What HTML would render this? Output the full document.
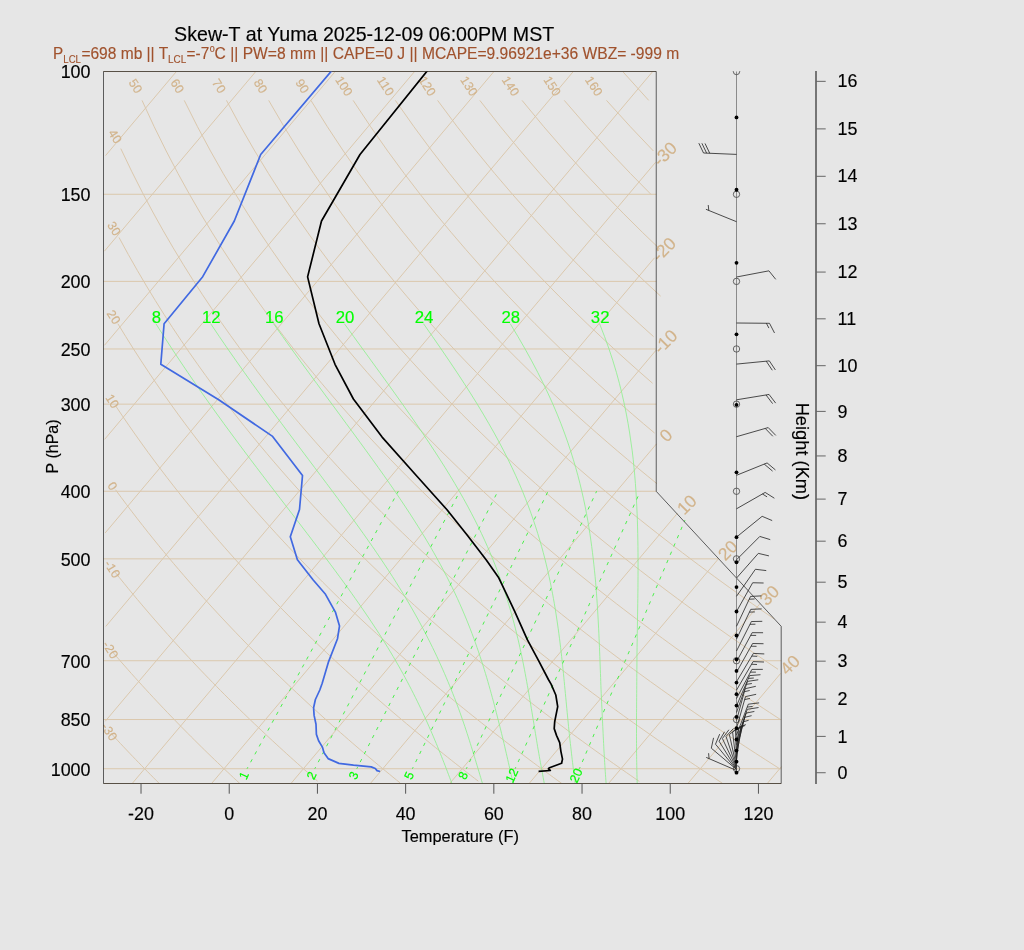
<!DOCTYPE html>
<html lang="en"><head><meta charset="utf-8"><title>Skew-T at Yuma 2025-12-09 06:00PM MST</title>
<style>
html,body{margin:0;padding:0;background:#e6e6e6;}
body{width:1024px;height:950px;overflow:hidden;}
svg{display:block;font-family:"Liberation Sans", sans-serif;}
text{stroke-width:0.15px;stroke-linejoin:round;}
#title,#xtitle,#ytitle,#htitle,#xlabels text,#ylabels text,#hlabels text{stroke:#000;}
#labels-tan text{stroke:#d2b48c;}
#labels-green text{stroke:#00ff00;}
#subtitle{stroke:#a0522d;}
</style></head><body>
<svg width="1024" height="950" viewBox="0 0 1024 950">
<rect width="1024" height="950" fill="#e6e6e6"/>
<g id="grid-tan" fill="none" stroke="#dbc8ad" stroke-width="1">
<polyline points="105.57,155.58 176.4,71.52"/>
<polyline points="104.41,251.17 255.78,71.52"/>
<polyline points="104.48,345.31 335.17,71.52"/>
<polyline points="104.6,439.39 414.55,71.52"/>
<polyline points="105.16,532.95 493.93,71.52"/>
<polyline points="105.79,626.42 573.31,71.52"/>
<polyline points="105.23,721.3 652.7,71.52"/>
<polyline points="132.2,783.51 655.52,162.39"/>
<polyline points="211.58,783.51 654.52,257.79"/>
<polyline points="290.97,783.51 656.07,350.18"/>
<polyline points="370.35,783.51 656.53,443.85"/>
<polyline points="449.73,783.51 677.49,513.18"/>
<polyline points="529.12,783.51 718.4,558.85"/>
<polyline points="608.5,783.51 759.92,603.79"/>
<polyline points="687.88,783.51 780.62,673.44"/>
<polyline points="767.27,783.51 781.51,766.61"/>
<polyline points="103.5,783.51 781.2,783.51" stroke-width="1"/>
<polyline points="103.5,768.74 781.2,768.74" stroke-width="1"/>
<polyline points="103.5,719.53 781.2,719.53" stroke-width="1"/>
<polyline points="103.5,660.74 781.2,660.74" stroke-width="1"/>
<polyline points="103.5,558.85 718.43,558.85" stroke-width="1"/>
<polyline points="103.5,491.28 656.24,491.28" stroke-width="1"/>
<polyline points="103.5,404.17 656.24,404.17" stroke-width="1"/>
<polyline points="103.5,348.97 656.24,348.97" stroke-width="1"/>
<polyline points="103.5,281.4 656.24,281.4" stroke-width="1"/>
<polyline points="103.5,194.29 656.24,194.29" stroke-width="1"/>
<polyline points="103.5,71.52 656.24,71.52" stroke-width="1"/>
<polyline points="111.1,733.45 114.23,736.83 117.34,740.18 120.43,743.49 123.51,746.76 126.58,750 129.62,753.21 132.66,756.38 135.68,759.51 138.68,762.62 141.67,765.69 144.65,768.74 147.61,771.75 150.56,774.73 153.49,777.69 156.42,780.61 159.32,783.51"/>
<polyline points="112.54,651.96 116.35,656.38 120.13,660.74 123.89,665.03 127.63,669.27 131.34,673.44 135.03,677.56 138.69,681.63 142.34,685.64 145.96,689.6 149.57,693.5 153.15,697.36 156.71,701.17 160.25,704.93 163.77,708.65 167.28,712.32 170.76,715.94 174.22,719.53 177.66,723.07 181.09,726.57 184.5,730.03 187.89,733.45 191.26,736.83 194.61,740.18 197.95,743.49 201.26,746.76 204.57,750 207.85,753.21 211.12,756.38 214.37,759.51 217.61,762.62 220.83,765.69 224.03,768.74 227.22,771.75 230.39,774.73 233.55,777.69 236.7,780.61 239.82,783.51"/>
<polyline points="114.83,571.89 119.43,577.64 123.99,583.28 128.52,588.81 133.01,594.25 137.47,599.59 141.9,604.84 146.29,609.99 150.65,615.07 154.98,620.06 159.28,624.96 163.55,629.79 167.79,634.55 172,639.23 176.18,643.84 180.33,648.38 184.46,652.85 188.56,657.26 192.63,661.6 196.67,665.88 200.69,670.11 204.68,674.27 208.65,678.38 212.59,682.43 216.51,686.43 220.41,690.38 224.28,694.28 228.13,698.13 231.95,701.93 235.75,705.68 239.53,709.38 243.29,713.05 247.03,716.66 250.74,720.24 254.43,723.77 258.11,727.26 261.76,730.72 265.39,734.13 269,737.51 272.6,740.84 276.17,744.15 279.73,747.41 283.26,750.64 286.78,753.84 290.28,757.01 293.76,760.14 297.22,763.24 300.67,766.3 304.1,769.34 307.51,772.35 310.91,775.33 314.28,778.27 317.64,781.19"/>
<polyline points="115.55,489.77 121.09,497.28 126.57,504.61 132,511.77 137.38,518.77 142.72,525.6 148,532.29 153.24,538.83 158.43,545.23 163.57,551.5 168.68,557.64 173.73,563.66 178.75,569.56 183.72,575.35 188.65,581.03 193.55,586.61 198.4,592.09 203.22,597.46 207.99,602.75 212.73,607.94 217.44,613.05 222.11,618.07 226.74,623.01 231.34,627.87 235.91,632.65 240.44,637.36 244.94,642 249.41,646.57 253.85,651.07 258.25,655.5 262.63,659.87 266.98,664.18 271.29,668.42 275.58,672.61 279.84,676.74 284.08,680.82 288.28,684.84 292.46,688.81 296.62,692.73 300.74,696.59 304.85,700.41 308.92,704.18 312.97,707.91 317,711.59 321,715.22 324.98,718.81 328.94,722.36 332.87,725.87 336.78,729.34 340.67,732.77 344.54,736.16 348.38,739.51 352.21,742.83 356.01,746.11 359.79,749.36 363.56,752.57 367.3,755.74 371.02,758.89 374.72,762 378.4,765.08 382.07,768.13 385.71,771.15 389.34,774.14 392.95,777.1 396.54,780.03 400.11,782.93"/>
<polyline points="115.86,406.19 122.49,416.05 129.04,425.6 135.52,434.86 141.93,443.85 148.26,452.58 154.53,461.06 160.73,469.31 166.86,477.34 172.93,485.17 178.94,492.8 184.89,500.24 190.77,507.5 196.6,514.59 202.38,521.52 208.09,528.29 213.75,534.92 219.36,541.4 224.92,547.75 230.43,553.97 235.89,560.06 241.3,566.03 246.66,571.89 251.97,577.64 257.24,583.28 262.47,588.81 267.65,594.25 272.79,599.59 277.89,604.84 282.95,609.99 287.97,615.07 292.95,620.06 297.89,624.96 302.79,629.79 307.66,634.55 312.49,639.23 317.28,643.84 322.04,648.38 326.76,652.85 331.46,657.26 336.11,661.6 340.74,665.88 345.34,670.11 349.9,674.27 354.43,678.38 358.93,682.43 363.4,686.43 367.85,690.38 372.26,694.28 376.65,698.13 381.01,701.93 385.34,705.68 389.64,709.38 393.92,713.05 398.17,716.66 402.4,720.24 406.6,723.77 410.77,727.26 414.93,730.72 419.05,734.13 423.16,737.51 427.24,740.84 431.29,744.15 435.33,747.41 439.34,750.64 443.33,753.84 447.3,757.01 451.24,760.14 455.17,763.24 459.07,766.3 462.96,769.34 466.82,772.35 470.66,775.33 474.49,778.27 478.29,781.19"/>
<polyline points="117.89,323.72 125.75,336.61 133.5,348.97 141.16,360.84 148.71,372.27 156.16,383.28 163.52,393.91 170.79,404.17 177.96,414.1 185.05,423.72 192.05,433.03 198.96,442.07 205.8,450.85 212.55,459.38 219.23,467.68 225.84,475.75 232.37,483.62 238.83,491.28 245.22,498.76 251.54,506.06 257.8,513.18 264,520.14 270.13,526.95 276.2,533.6 282.21,540.12 288.17,546.49 294.06,552.74 299.91,558.85 305.69,564.85 311.43,570.73 317.12,576.5 322.75,582.16 328.34,587.71 333.87,593.17 339.36,598.53 344.81,603.79 350.21,608.97 355.56,614.06 360.87,619.06 366.14,623.99 371.37,628.83 376.56,633.6 381.7,638.3 386.81,642.92 391.88,647.47 396.92,651.96 401.91,656.38 406.87,660.74 411.79,665.03 416.68,669.27 421.54,673.44 426.36,677.56 431.15,681.63 435.9,685.64 440.63,689.6 445.32,693.5 449.98,697.36 454.61,701.17 459.21,704.93 463.79,708.65 468.33,712.32 472.85,715.94 477.33,719.53 481.79,723.07 486.22,726.57 490.63,730.03 495.01,733.45 499.36,736.83 503.69,740.18 508,743.49 512.27,746.76 516.53,750 520.76,753.21 524.97,756.38 529.15,759.51 533.31,762.62 537.45,765.69 541.56,768.74 545.66,771.75 549.73,774.73 553.78,777.69 557.81,780.61 561.82,783.51"/>
<polyline points="119.04,237.49 128.31,254.5 137.44,270.61 146.43,285.91 155.28,300.47 164,314.36 172.59,327.64 181.05,340.37 189.39,352.58 197.61,364.32 205.72,375.62 213.71,386.51 221.59,397.03 229.37,407.19 237.04,417.02 244.61,426.54 252.09,435.78 259.48,444.73 266.77,453.44 273.98,461.89 281.1,470.12 288.13,478.13 295.09,485.94 301.97,493.55 308.77,500.97 315.49,508.21 322.15,515.29 328.73,522.2 335.25,528.96 341.7,535.57 348.09,542.04 354.41,548.38 360.67,554.58 366.87,560.66 373.01,566.62 379.09,572.47 385.12,578.21 391.09,583.83 397.01,589.36 402.88,594.79 408.7,600.12 414.46,605.36 420.18,610.51 425.85,615.57 431.47,620.55 437.05,625.45 442.58,630.27 448.07,635.02 453.51,639.69 458.92,644.29 464.28,648.83 469.6,653.29 474.88,657.69 480.12,662.03 485.33,666.31 490.49,670.53 495.62,674.68 500.72,678.79 505.77,682.84 510.8,686.83 515.79,690.77 520.74,694.67 525.66,698.51 530.55,702.3 535.41,706.05 540.23,709.75 545.03,713.41 549.79,717.02 554.53,720.59 559.23,724.12 563.91,727.61 568.56,731.06 573.17,734.47 577.77,737.84 582.33,741.18 586.87,744.47 591.38,747.74 595.86,750.97 600.32,754.16 604.76,757.32 609.17,760.45 613.55,763.55 617.91,766.61 622.25,769.64 626.56,772.65 630.85,775.62 635.12,778.57 639.36,781.49"/>
<polyline points="120.8,148.62 131.62,171.23 142.27,192.26 152.74,211.93 163.03,230.4 173.15,247.81 183.1,264.27 192.87,279.88 202.49,294.73 211.94,308.88 221.25,322.4 230.4,335.34 239.41,347.75 248.28,359.68 257.02,371.15 265.63,382.2 274.11,392.86 282.47,403.16 290.72,413.13 298.85,422.77 306.87,432.12 314.79,441.18 322.61,449.99 330.33,458.54 337.95,466.86 345.47,474.96 352.91,482.84 360.26,490.53 367.53,498.02 374.71,505.34 381.81,512.48 388.84,519.46 395.79,526.28 402.66,532.95 409.47,539.47 416.2,545.86 422.87,552.12 429.47,558.25 436,564.25 442.47,570.15 448.88,575.92 455.23,581.6 461.52,587.16 467.76,592.63 473.94,598 480.06,603.27 486.13,608.46 492.15,613.55 498.11,618.57 504.03,623.5 509.9,628.35 515.72,633.13 521.49,637.83 527.22,642.46 532.9,647.02 538.54,651.51 544.13,655.94 549.69,660.3 555.2,664.6 560.67,668.85 566.1,673.03 571.49,677.15 576.84,681.22 582.16,685.24 587.43,689.2 592.67,693.11 597.88,696.98 603.05,700.79 608.18,704.56 613.28,708.28 618.35,711.95 623.39,715.58 628.39,719.17 633.36,722.72 638.3,726.22 643.21,729.68 648.09,733.11 652.93,736.5 657.75,739.85 662.54,743.16 667.31,746.44 672.04,749.68 676.75,752.89 681.42,756.06 686.08,759.2 690.7,762.31 695.3,765.39 699.88,768.43 704.42,771.45 708.95,774.44 713.45,777.39 717.92,780.32 722.37,783.22"/>
<polyline points="142.02,100.38 154.2,126.72 166.18,150.96 177.93,173.4 189.46,194.29 200.78,213.83 211.87,232.19 222.76,249.5 233.45,265.87 243.94,281.4 254.24,296.17 264.36,310.26 274.31,323.72 284.09,336.61 293.7,348.97 303.16,360.84 312.47,372.27 321.64,383.28 330.67,393.91 339.56,404.17 348.32,414.1 356.96,423.72 365.48,433.03 373.89,442.07 382.18,450.85 390.36,459.38 398.44,467.68 406.42,475.75 414.29,483.62 422.08,491.28 429.77,498.76 437.37,506.06 444.88,513.18 452.31,520.14 459.65,526.95 466.92,533.6 474.11,540.12 481.22,546.49 488.26,552.74 495.23,558.85 502.13,564.85 508.96,570.73 515.72,576.5 522.42,582.16 529.06,587.71 535.63,593.17 542.14,598.53 548.6,603.79 555,608.97 561.34,614.06 567.63,619.06 573.86,623.99 580.04,628.83 586.17,633.6 592.25,638.3 598.28,642.92 604.26,647.47 610.19,651.96 616.08,656.38 621.92,660.74 627.72,665.03 633.48,669.27 639.19,673.44 644.86,677.56 650.49,681.63 656.08,685.64 661.62,689.6 667.13,693.5 672.61,697.36 678.04,701.17 683.44,704.93 688.8,708.65 694.12,712.32 699.41,715.94 704.67,719.53 709.89,723.07 715.08,726.57 720.23,730.03 725.35,733.45 730.44,736.83 735.5,740.18 740.53,743.49 745.53,746.76 750.5,750 755.44,753.21 760.35,756.38 765.23,759.51 770.09,762.62 774.92,765.69 779.71,768.74"/>
<polyline points="184.24,100.38 197.49,126.72 210.47,150.96 223.17,173.4 235.6,194.29 247.78,213.83 259.7,232.19 271.38,249.5 282.82,265.87 294.04,281.4 305.05,296.17 315.85,310.26 326.45,323.72 336.87,336.61 347.1,348.97 357.17,360.84 367.06,372.27 376.8,383.28 386.38,393.91 395.82,404.17 405.11,414.1 414.27,423.72 423.3,433.03 432.2,442.07 440.97,450.85 449.63,459.38 458.18,467.68 466.61,475.75 474.94,483.62 483.16,491.28 491.28,498.76 499.31,506.06 507.24,513.18 515.08,520.14 522.83,526.95 530.49,533.6 538.08,540.12 545.57,546.49 553,552.74 560.34,558.85 567.61,564.85 574.8,570.73 581.92,576.5 588.98,582.16 595.96,587.71 602.88,593.17 609.74,598.53 616.53,603.79 623.26,608.97 629.93,614.06 636.54,619.06 643.1,623.99 649.6,628.83 656.04,633.6 662.43,638.3 668.77,642.92 675.05,647.47 681.29,651.96 687.47,656.38 693.61,660.74 699.7,665.03 705.74,669.27 711.74,673.44 717.69,677.56 723.6,681.63 729.47,685.64 735.29,689.6 741.07,693.5 746.81,697.36 752.51,701.17 758.18,704.93 763.8,708.65 769.38,712.32 774.93,715.94 780.44,719.53"/>
<polyline points="226.47,100.38 240.78,126.72 254.76,150.96 268.41,173.4 281.75,194.29 294.78,213.83 307.52,232.19 319.99,249.5 332.19,265.87 344.14,281.4 355.85,296.17 367.33,310.26 378.59,323.72 389.65,336.61 400.5,348.97 411.17,360.84 421.65,372.27 431.96,383.28 442.1,393.91 452.08,404.17 461.9,414.1 471.58,423.72 481.11,433.03 490.5,442.07 499.77,450.85 508.9,459.38 517.91,467.68 526.8,475.75 535.58,483.62 544.24,491.28 552.8,498.76 561.25,506.06 569.6,513.18 577.85,520.14 586,526.95 594.07,533.6 602.04,540.12 609.93,546.49 617.73,552.74 625.45,558.85 633.08,564.85 640.64,570.73 648.13,576.5 655.53,582.16 662.87,587.71 670.14,593.17 677.33,598.53 684.46,603.79 691.53,608.97 698.53,614.06 705.46,619.06 712.34,623.99 719.15,628.83 725.91,633.6 732.61,638.3 739.26,642.92 745.84,647.47 752.38,651.96 758.86,656.38 765.29,660.74 771.68,665.03 778.01,669.27"/>
<polyline points="268.69,100.38 284.07,126.72 299.05,150.96 313.65,173.4 327.89,194.29 341.78,213.83 355.34,232.19 368.6,249.5 381.56,265.87 394.24,281.4 406.65,296.17 418.81,310.26 430.73,323.72 442.43,336.61 453.9,348.97 465.17,360.84 476.24,372.27 487.12,383.28 497.81,393.91 508.33,404.17 518.69,414.1 528.88,423.72 538.92,433.03 548.81,442.07 558.56,450.85 568.17,459.38 577.65,467.68 587,475.75 596.22,483.62 605.32,491.28 614.31,498.76 623.19,506.06 631.96,513.18 640.62,520.14 649.18,526.95 657.64,533.6 666.01,540.12 674.28,546.49 682.46,552.74 690.55,558.85 698.56,564.85 706.49,570.73 714.33,576.5 722.09,582.16 729.78,587.71 737.39,593.17 744.93,598.53 752.39,603.79 759.79,608.97 767.12,614.06 774.38,619.06"/>
<polyline points="310.92,100.38 327.36,126.72 343.34,150.96 358.89,173.4 374.03,194.29 388.78,213.83 403.17,232.19 417.21,249.5 430.93,265.87 444.34,281.4 457.45,296.17 470.3,310.26 482.88,323.72 495.21,336.61 507.3,348.97 519.17,360.84 530.83,372.27 542.28,383.28 553.53,393.91 564.59,404.17 575.48,414.1 586.19,423.72 596.74,433.03 607.12,442.07 617.35,450.85 627.44,459.38 637.38,467.68 647.19,475.75 656.86,483.62"/>
<polyline points="353.14,100.38 370.65,126.72 387.63,150.96 404.13,173.4 420.17,194.29 435.78,213.83 450.99,232.19 465.82,249.5 480.29,265.87 494.43,281.4 508.26,296.17 521.78,310.26 535.02,323.72 547.99,336.61 560.7,348.97 573.17,360.84 585.41,372.27 597.43,383.28 609.24,393.91 620.85,404.17 632.27,414.1 643.5,423.72 654.55,433.03"/>
<polyline points="395.37,100.38 413.94,126.72 431.92,150.96 449.37,173.4 466.31,194.29 482.78,213.83 498.81,232.19 514.43,249.5 529.66,265.87 544.53,281.4 559.06,296.17 573.26,310.26 587.16,323.72 600.77,336.61 614.1,348.97 627.18,360.84 640,372.27 652.59,383.28"/>
<polyline points="437.59,100.38 457.22,126.72 476.21,150.96 494.61,173.4 512.45,194.29 529.78,213.83 546.64,232.19 563.04,249.5 579.03,265.87 594.63,281.4 609.86,296.17 624.74,310.26 639.3,323.72 653.55,336.61"/>
<polyline points="479.82,100.38 500.51,126.72 520.51,150.96 539.85,173.4 558.59,194.29 576.78,213.83 594.46,232.19 611.65,249.5 628.4,265.87 644.73,281.4 660.66,296.17"/>
<polyline points="522.04,100.38 543.8,126.72 564.8,150.96 585.09,173.4 604.74,194.29 623.79,213.83 642.28,232.19 660.27,249.5"/>
<polyline points="564.27,100.38 587.09,126.72 609.09,150.96 630.33,173.4 650.88,194.29"/>
<polyline points="606.49,100.38 630.38,126.72 653.38,150.96"/>
<polyline points="622.71,71.52 648.72,100.38"/>
</g>
<g id="grid-green" fill="none" stroke="#8cf08c" stroke-width="0.8">
<polyline points="599.57,323.72 604.59,336.61 609.03,348.97 612.91,360.84 616.36,372.27 619.37,383.28 622.01,393.91 624.33,404.17 626.35,414.1 628.12,423.72 629.66,433.03 630.93,442.07 632.21,450.85 633.21,459.38 634.03,467.68 634.77,475.75 635.41,483.62 635.95,491.28 636.4,498.76 636.78,506.06 637.1,513.18 637.36,520.14 637.56,526.95 637.73,533.6 637.85,540.12 637.94,546.49 638,552.74 638.03,558.85 638.05,564.85 638.04,570.73 638.02,576.5 637.98,582.16 637.96,587.71 637.89,593.17 637.82,598.53 637.75,603.79 637.67,608.97 637.59,614.06 637.51,619.06 637.43,623.99 637.36,628.83 637.28,633.6 637.21,638.3 637.14,642.92 637.07,647.47 637.01,651.96 636.97,656.38 636.95,660.74 636.92,665.03 636.89,669.27 636.83,673.44 636.81,677.56 636.78,681.63 636.75,685.64 636.72,689.6 636.69,693.5 636.66,697.36 636.63,701.17 636.61,704.93 636.58,708.65 636.56,712.32 636.54,715.94 636.52,719.53 636.51,723.07 636.5,726.57 636.5,730.03 636.5,733.45 636.5,736.83 636.51,740.18 636.53,743.49 636.54,746.76 636.55,750 636.59,753.21 636.63,756.38 636.67,759.51 636.72,762.62 636.77,765.69 636.82,768.74 636.89,771.75 636.96,774.73 637.03,777.69 637.12,780.61 637.21,783.51"/>
<polyline points="510.27,323.72 517.98,336.61 525.1,348.97 531.65,360.84 537.68,372.27 543.2,383.28 548.25,393.91 552.89,404.17 557.12,414.1 560.97,423.72 564.48,433.03 567.69,442.07 570.61,450.85 573.28,459.38 575.71,467.68 577.94,475.75 579.97,483.62 581.79,491.28 583.51,498.76 585.05,506.06 586.45,513.18 587.73,520.14 588.83,526.95 589.88,533.6 590.84,540.12 591.71,546.49 592.51,552.74 593.23,558.85 593.9,564.85 594.51,570.73 595.1,576.5 595.61,582.16 596.06,587.71 596.48,593.17 596.87,598.53 597.22,603.79 597.55,608.97 597.85,614.06 598.13,619.06 598.39,623.99 598.64,628.83 598.86,633.6 599.07,638.3 599.28,642.92 599.47,647.47 599.65,651.96 599.82,656.38 599.99,660.74 600.15,665.03 600.31,669.27 600.46,673.44 600.62,677.56 600.74,681.63 600.9,685.64 601.06,689.6 601.22,693.5 601.38,697.36 601.57,701.17 601.75,704.93 601.93,708.65 602.1,712.32 602.28,715.94 602.44,719.53 602.61,723.07 602.78,726.57 602.94,730.03 603.11,733.45 603.28,736.83 603.44,740.18 603.61,743.49 603.78,746.76 603.93,750 604.12,753.21 604.31,756.38 604.5,759.51 604.68,762.62 604.88,765.69 605.07,768.74 605.27,771.75 605.48,774.73 605.69,777.69 605.9,780.61 606.13,783.51"/>
<polyline points="423.52,323.72 432.56,336.61 441.11,348.97 449.21,360.84 456.87,372.27 464.08,383.28 470.88,393.91 477.28,404.17 483.28,414.1 488.89,423.72 494.18,433.03 499.12,442.07 503.73,450.85 508.03,459.38 512.04,467.68 515.78,475.75 519.27,483.62 522.51,491.28 525.53,498.76 528.35,506.06 530.97,513.18 533.41,520.14 535.68,526.95 537.78,533.6 539.76,540.12 541.6,546.49 543.31,552.74 544.9,558.85 546.38,564.85 547.77,570.73 549.06,576.5 550.26,582.16 551.39,587.71 552.45,593.17 553.43,598.53 554.36,603.79 555.23,608.97 556.04,614.06 556.81,619.06 557.53,623.99 558.22,628.83 558.86,633.6 559.47,638.3 560.05,642.92 560.6,647.47 561.13,651.96 561.63,656.38 562.11,660.74 562.57,665.03 563.01,669.27 563.44,673.44 563.85,677.56 564.25,681.63 564.61,685.64 565,689.6 565.38,693.5 565.75,697.36 566.11,701.17 566.47,704.93 566.82,708.65 567.17,712.32 567.52,715.94 567.87,719.53 568.21,723.07 568.56,726.57 568.91,730.03 569.26,733.45 569.62,736.83 570,740.18 570.37,743.49 570.74,746.76 571.11,750 571.46,753.21 571.84,756.38 572.21,759.51 572.58,762.62 572.95,765.69 573.32,768.74 573.69,771.75 574.06,774.73 574.44,777.69 574.82,780.61 575.21,783.51"/>
<polyline points="344.39,323.72 353.72,336.61 362.69,348.97 371.32,360.84 379.61,372.27 387.57,383.28 395.2,393.91 402.5,404.17 409.49,414.1 416.17,423.72 422.55,433.03 428.6,442.07 434.4,450.85 439.92,459.38 445.16,467.68 450.14,475.75 454.86,483.62 459.34,491.28 463.57,498.76 467.58,506.06 471.37,513.18 474.96,520.14 478.34,526.95 481.54,533.6 484.56,540.12 487.42,546.49 490.11,552.74 492.65,558.85 495.05,564.85 497.32,570.73 499.48,576.5 501.49,582.16 503.38,587.71 505.21,593.17 506.92,598.53 508.54,603.79 510.08,608.97 511.53,614.06 512.91,619.06 514.22,623.99 515.47,628.83 516.65,633.6 517.78,638.3 518.86,642.92 519.88,647.47 520.86,651.96 521.8,656.38 522.7,660.74 523.57,665.03 524.4,669.27 525.2,673.44 525.94,677.56 526.69,681.63 527.42,685.64 528.13,689.6 528.81,693.5 529.48,697.36 530.12,701.17 530.76,704.93 531.38,708.65 531.99,712.32 532.58,715.94 533.17,719.53 533.75,723.07 534.32,726.57 534.89,730.03 535.45,733.45 536.01,736.83 536.56,740.18 537.12,743.49 537.64,746.76 538.2,750 538.77,753.21 539.32,756.38 539.88,759.51 540.44,762.62 541,765.69 541.56,768.74 542.12,771.75 542.67,774.73 543.21,777.69 543.74,780.61 544.27,783.51"/>
<polyline points="273.59,323.72 282.7,336.61 291.54,348.97 300.13,360.84 308.46,372.27 316.54,383.28 324.37,393.91 331.96,404.17 339.3,414.1 346.34,423.72 353.21,433.03 359.84,442.07 366.25,450.85 372.42,459.38 378.38,467.68 384.11,475.75 389.62,483.62 394.92,491.28 400.01,498.76 404.9,506.06 409.59,513.18 414.08,520.14 418.39,526.95 422.51,533.6 426.45,540.12 430.22,546.49 433.83,552.74 437.27,558.85 440.56,564.85 443.7,570.73 446.7,576.5 449.56,582.16 452.3,587.71 454.91,593.17 457.4,598.53 459.78,603.79 462.06,608.97 464.23,614.06 466.31,619.06 468.3,623.99 470.21,628.83 472.02,633.6 473.77,638.3 475.44,642.92 477.04,647.47 478.58,651.96 480.06,656.38 481.48,660.74 482.86,665.03 484.18,669.27 485.45,673.44 486.69,677.56 487.88,681.63 489.03,685.64 490.15,689.6 491.24,693.5 492.29,697.36 493.32,701.17 494.32,704.93 495.29,708.65 496.24,712.32 497.17,715.94 498.09,719.53 498.98,723.07 499.86,726.57 500.72,730.03 501.57,733.45 502.41,736.83 503.24,740.18 504.02,743.49 504.78,746.76 505.51,750 506.26,753.21 506.99,756.38 507.71,759.51 508.42,762.62 509.12,765.69 509.81,768.74 510.5,771.75 511.18,774.73 511.85,777.69 512.52,780.61 513.2,783.51"/>
<polyline points="210.71,323.72 219.37,336.61 227.83,348.97 236.11,360.84 244.19,372.27 252.08,383.28 259.78,393.91 267.29,404.17 274.61,414.1 281.75,423.72 288.7,433.03 295.48,442.07 302.07,450.85 308.49,459.38 314.73,467.68 320.79,475.75 326.69,483.62 332.42,491.28 337.97,498.76 343.37,506.06 348.59,513.18 353.66,520.14 358.57,526.95 363.32,533.6 367.91,540.12 372.36,546.49 376.65,552.74 380.8,558.85 384.81,564.85 388.68,570.73 392.41,576.5 396.01,582.16 399.48,587.71 402.83,593.17 406.05,598.53 409.16,603.79 412.16,608.97 415.05,614.06 417.83,619.06 420.51,623.99 423.1,628.83 425.57,633.6 427.98,638.3 430.31,642.92 432.55,647.47 434.71,651.96 436.8,656.38 438.81,660.74 440.76,665.03 442.65,669.27 444.47,673.44 446.24,677.56 447.95,681.63 449.61,685.64 451.23,689.6 452.79,693.5 454.32,697.36 455.8,701.17 457.23,704.93 458.59,708.65 459.92,712.32 461.2,715.94 462.45,719.53 463.67,723.07 464.85,726.57 466,730.03 467.12,733.45 468.22,736.83 469.29,740.18 470.34,743.49 471.37,746.76 472.38,750 473.34,753.21 474.32,756.38 475.28,759.51 476.22,762.62 477.15,765.69 478.06,768.74 478.96,771.75 479.84,774.73 480.72,777.69 481.59,780.61 482.46,783.51"/>
<polyline points="155.92,323.72 164.07,336.61 172.07,348.97 179.92,360.84 187.63,372.27 195.19,383.28 202.6,393.91 209.87,404.17 216.99,414.1 223.96,423.72 230.8,433.03 237.49,442.07 244.04,450.85 250.45,459.38 256.73,467.68 262.86,475.75 268.87,483.62 274.74,491.28 280.47,498.76 286.08,506.06 291.55,513.18 296.9,520.14 302.12,526.95 307.21,533.6 312.18,540.12 317.03,546.49 321.75,552.74 326.35,558.85 330.83,564.85 335.2,570.73 339.45,576.5 343.58,582.16 347.6,587.71 351.51,593.17 355.31,598.53 359,603.79 362.59,608.97 366.08,614.06 369.47,619.06 372.76,623.99 375.95,628.83 379.05,633.6 382.06,638.3 384.95,642.92 387.73,647.47 390.45,651.96 393.08,656.38 395.63,660.74 398.11,665.03 400.5,669.27 402.82,673.44 405.07,677.56 407.25,681.63 409.37,685.64 411.42,689.6 413.41,693.5 415.35,697.36 417.23,701.17 419.05,704.93 420.83,708.65 422.56,712.32 424.24,715.94 425.87,719.53 427.47,723.07 429.02,726.57 430.54,730.03 432.02,733.45 433.46,736.83 434.87,740.18 436.25,743.49 437.6,746.76 438.92,750 440.19,753.21 441.47,756.38 442.71,759.51 443.94,762.62 445.13,765.69 446.3,768.74 447.46,771.75 448.59,774.73 449.71,777.69 450.81,780.61 451.9,783.51"/>
<polyline points="579.42,768.74 684.94,520.14" stroke="#4cf04c" stroke-width="1" stroke-dasharray="3.4 5.6" stroke-dashoffset="1.6"/>
<polyline points="515.09,768.74 640.32,491.28" stroke="#4cf04c" stroke-width="1" stroke-dasharray="3.4 5.6" stroke-dashoffset="1.6"/>
<polyline points="466.34,768.74 596.59,491.28" stroke="#4cf04c" stroke-width="1" stroke-dasharray="3.4 5.6" stroke-dashoffset="1.6"/>
<polyline points="412.39,768.74 548.06,491.28" stroke="#4cf04c" stroke-width="1" stroke-dasharray="3.4 5.6" stroke-dashoffset="1.6"/>
<polyline points="356.79,768.74 497.87,491.28" stroke="#4cf04c" stroke-width="1" stroke-dasharray="3.4 5.6" stroke-dashoffset="1.6"/>
<polyline points="314.78,768.74 459.84,491.28" stroke="#4cf04c" stroke-width="1" stroke-dasharray="3.4 5.6" stroke-dashoffset="1.6"/>
<polyline points="247.04,768.74 398.3,491.28" stroke="#4cf04c" stroke-width="1" stroke-dasharray="3.4 5.6" stroke-dashoffset="1.6"/>
</g>
<g id="labels-tan" fill="#d2b48c">
<text transform="translate(109.53 731.74) rotate(57)" y="4.47" font-size="12.5" text-anchor="middle">-30</text>
<text transform="translate(110.63 649.72) rotate(57)" y="4.47" font-size="12.5" text-anchor="middle">-20</text>
<text transform="translate(112.51 568.96) rotate(57)" y="4.47" font-size="12.5" text-anchor="middle">-10</text>
<text transform="translate(112.76 485.91) rotate(57)" y="4.47" font-size="12.5" text-anchor="middle">0</text>
<text transform="translate(112.51 401.09) rotate(57)" y="4.47" font-size="12.5" text-anchor="middle">10</text>
<text transform="translate(113.9 316.99) rotate(57)" y="4.47" font-size="12.5" text-anchor="middle">20</text>
<text transform="translate(114.33 228.47) rotate(57)" y="4.47" font-size="12.5" text-anchor="middle">30</text>
<text transform="translate(115.3 136.41) rotate(57)" y="4.47" font-size="12.5" text-anchor="middle">40</text>
<text transform="translate(135.83 85.95) rotate(57)" y="4.47" font-size="12.5" text-anchor="middle">50</text>
<text transform="translate(177.49 85.95) rotate(57)" y="4.47" font-size="12.5" text-anchor="middle">60</text>
<text transform="translate(219.14 85.95) rotate(57)" y="4.47" font-size="12.5" text-anchor="middle">70</text>
<text transform="translate(260.8 85.95) rotate(57)" y="4.47" font-size="12.5" text-anchor="middle">80</text>
<text transform="translate(302.46 85.95) rotate(57)" y="4.47" font-size="12.5" text-anchor="middle">90</text>
<text transform="translate(344.11 85.95) rotate(57)" y="4.47" font-size="12.5" text-anchor="middle">100</text>
<text transform="translate(385.77 85.95) rotate(57)" y="4.47" font-size="12.5" text-anchor="middle">110</text>
<text transform="translate(427.43 85.95) rotate(57)" y="4.47" font-size="12.5" text-anchor="middle">120</text>
<text transform="translate(469.09 85.95) rotate(57)" y="4.47" font-size="12.5" text-anchor="middle">130</text>
<text transform="translate(510.74 85.95) rotate(57)" y="4.47" font-size="12.5" text-anchor="middle">140</text>
<text transform="translate(552.4 85.95) rotate(57)" y="4.47" font-size="12.5" text-anchor="middle">150</text>
<text transform="translate(594.06 85.95) rotate(57)" y="4.47" font-size="12.5" text-anchor="middle">160</text>
<text transform="translate(664.71 153.68) rotate(-45)" y="6.26" font-size="17.5" text-anchor="middle">-30</text>
<text transform="translate(663.71 249.09) rotate(-45)" y="6.26" font-size="17.5" text-anchor="middle">-20</text>
<text transform="translate(665.25 341.47) rotate(-45)" y="6.26" font-size="17.5" text-anchor="middle">-10</text>
<text transform="translate(665.71 435.15) rotate(-45)" y="6.26" font-size="17.5" text-anchor="middle">0</text>
<text transform="translate(686.68 504.48) rotate(-45)" y="6.26" font-size="17.5" text-anchor="middle">10</text>
<text transform="translate(727.59 550.15) rotate(-45)" y="6.26" font-size="17.5" text-anchor="middle">20</text>
<text transform="translate(769.11 595.09) rotate(-45)" y="6.26" font-size="17.5" text-anchor="middle">30</text>
<text transform="translate(789.81 664.74) rotate(-45)" y="6.26" font-size="17.5" text-anchor="middle">40</text>
</g>
<g id="labels-green" fill="#00ff00">
<text transform="translate(600.17 317.42) scale(1.04 1)" y="5.76" font-size="16.1" text-anchor="middle">32</text>
<text transform="translate(510.87 317.42) scale(1.04 1)" y="5.76" font-size="16.1" text-anchor="middle">28</text>
<text transform="translate(424.12 317.42) scale(1.04 1)" y="5.76" font-size="16.1" text-anchor="middle">24</text>
<text transform="translate(344.99 317.42) scale(1.04 1)" y="5.76" font-size="16.1" text-anchor="middle">20</text>
<text transform="translate(274.19 317.42) scale(1.04 1)" y="5.76" font-size="16.1" text-anchor="middle">16</text>
<text transform="translate(211.31 317.42) scale(1.04 1)" y="5.76" font-size="16.1" text-anchor="middle">12</text>
<text transform="translate(156.52 317.42) scale(1.04 1)" y="5.76" font-size="16.1" text-anchor="middle">8</text>
<text transform="translate(575.92 775.44) rotate(-65)" y="4.47" font-size="12.5" text-anchor="middle">20</text>
<text transform="translate(511.59 775.44) rotate(-65)" y="4.47" font-size="12.5" text-anchor="middle">12</text>
<text transform="translate(462.84 775.44) rotate(-65)" y="4.47" font-size="12.5" text-anchor="middle">8</text>
<text transform="translate(408.89 775.44) rotate(-65)" y="4.47" font-size="12.5" text-anchor="middle">5</text>
<text transform="translate(353.29 775.44) rotate(-65)" y="4.47" font-size="12.5" text-anchor="middle">3</text>
<text transform="translate(311.28 775.44) rotate(-65)" y="4.47" font-size="12.5" text-anchor="middle">2</text>
<text transform="translate(243.54 775.44) rotate(-65)" y="4.47" font-size="12.5" text-anchor="middle">1</text>
</g>
<polygon id="frame" points="103.5,783.51 781.2,783.51 781.2,626.31 656.24,491.33 656.24,71.5 103.5,71.5" fill="none" stroke="#000" stroke-opacity="0.6" stroke-width="1"/>
<g id="xaxis" stroke="#555" stroke-width="1">
<line x1="141.02" y1="783.51" x2="141.02" y2="793.71"/>
<line x1="229.23" y1="783.51" x2="229.23" y2="793.71"/>
<line x1="317.43" y1="783.51" x2="317.43" y2="793.71"/>
<line x1="405.63" y1="783.51" x2="405.63" y2="793.71"/>
<line x1="493.84" y1="783.51" x2="493.84" y2="793.71"/>
<line x1="582.04" y1="783.51" x2="582.04" y2="793.71"/>
<line x1="670.24" y1="783.51" x2="670.24" y2="793.71"/>
<line x1="758.45" y1="783.51" x2="758.45" y2="793.71"/>
</g>
<g id="xlabels" font-size="17.9" text-anchor="middle">
<text x="141.02" y="819.8">-20</text>
<text x="229.23" y="819.8">0</text>
<text x="317.43" y="819.8">20</text>
<text x="405.63" y="819.8">40</text>
<text x="493.84" y="819.8">60</text>
<text x="582.04" y="819.8">80</text>
<text x="670.24" y="819.8">100</text>
<text x="758.45" y="819.8">120</text>
</g>
<text id="xtitle" x="460.2" y="842.2" font-size="16.3" text-anchor="middle" textLength="117.3" lengthAdjust="spacingAndGlyphs">Temperature (F)</text>
<g id="ylabels" font-size="17.9" text-anchor="end">
<text x="90.5" y="78.42">100</text>
<text x="90.5" y="201.2">150</text>
<text x="90.5" y="288.31">200</text>
<text x="90.5" y="355.88">250</text>
<text x="90.5" y="411.08">300</text>
<text x="90.5" y="498.19">400</text>
<text x="90.5" y="565.76">500</text>
<text x="90.5" y="667.64">700</text>
<text x="90.5" y="726.43">850</text>
<text x="90.5" y="775.65">1000</text>
</g>
<text id="ytitle" transform="translate(57.8 446.4) rotate(-90)" font-size="16.3" text-anchor="middle" textLength="54" lengthAdjust="spacingAndGlyphs">P (hPa)</text>
<line id="haxis" x1="816" y1="71.1" x2="816" y2="784.11" stroke="#5a5a5a" stroke-width="1.6"/>
<g id="hticks" stroke="#666" stroke-width="1">
<line x1="816" y1="772.72" x2="825.7" y2="772.72"/>
<line x1="816" y1="736.4" x2="825.7" y2="736.4"/>
<line x1="816" y1="699.23" x2="825.7" y2="699.23"/>
<line x1="816" y1="661.16" x2="825.7" y2="661.16"/>
<line x1="816" y1="622.17" x2="825.7" y2="622.17"/>
<line x1="816" y1="582.2" x2="825.7" y2="582.2"/>
<line x1="816" y1="541.18" x2="825.7" y2="541.18"/>
<line x1="816" y1="499.1" x2="825.7" y2="499.1"/>
<line x1="816" y1="455.94" x2="825.7" y2="455.94"/>
<line x1="816" y1="411.4" x2="825.7" y2="411.4"/>
<line x1="816" y1="365.68" x2="825.7" y2="365.68"/>
<line x1="816" y1="318.82" x2="825.7" y2="318.82"/>
<line x1="816" y1="272.07" x2="825.7" y2="272.07"/>
<line x1="816" y1="223.76" x2="825.7" y2="223.76"/>
<line x1="816" y1="176.31" x2="825.7" y2="176.31"/>
<line x1="816" y1="128.88" x2="825.7" y2="128.88"/>
<line x1="816" y1="81.35" x2="825.7" y2="81.35"/>
</g>
<g id="hlabels" font-size="17.9">
<text x="837.6" y="778.83">0</text>
<text x="837.6" y="742.51">1</text>
<text x="837.6" y="705.34">2</text>
<text x="837.6" y="667.27">3</text>
<text x="837.6" y="628.28">4</text>
<text x="837.6" y="588.3">5</text>
<text x="837.6" y="547.29">6</text>
<text x="837.6" y="505.21">7</text>
<text x="837.6" y="462.05">8</text>
<text x="837.6" y="417.5">9</text>
<text x="837.6" y="371.79">10</text>
<text x="837.6" y="324.93">11</text>
<text x="837.6" y="278.18">12</text>
<text x="837.6" y="229.86">13</text>
<text x="837.6" y="182.41">14</text>
<text x="837.6" y="134.99">15</text>
<text x="837.6" y="87.46">16</text>
</g>
<text id="htitle" transform="translate(796.0 451.4) rotate(90)" font-size="18" text-anchor="middle" textLength="97.5" lengthAdjust="spacingAndGlyphs">Height (Km)</text>
<defs><clipPath id="vp"><rect x="0" y="71" width="1024" height="900"/></clipPath></defs>
<g id="wind" clip-path="url(#vp)">
<line x1="736.5" y1="71.52" x2="736.5" y2="772.65" stroke="#808080" stroke-width="0.9"/>
<g fill="none" stroke="#444" stroke-width="0.8">
<circle cx="736.5" cy="768.74" r="3.2"/>
<circle cx="736.5" cy="719.53" r="3.2"/>
<circle cx="736.5" cy="660.74" r="3.2"/>
<circle cx="736.5" cy="558.85" r="3.2"/>
<circle cx="736.5" cy="491.28" r="3.2"/>
<circle cx="736.5" cy="404.17" r="3.2"/>
<circle cx="736.5" cy="348.97" r="3.2"/>
<circle cx="736.5" cy="281.4" r="3.2"/>
<circle cx="736.5" cy="194.29" r="3.2"/>
<circle cx="736.5" cy="71.52" r="3.2"/>
</g>
<g id="barbs" fill="none" stroke="#222" stroke-width="0.8" stroke-linejoin="miter">
<path d="M736.5 154.4L703.53 153.01L698.82 143.17M706.63 153.14L701.92 143.3M709.72 153.27L705.02 143.44"/>
<path d="M736.5 221.7L705.92 209.29M708.79 210.46L708.23 205.04"/>
<path d="M736.5 277L768.92 270.83L775.74 279.33"/>
<path d="M736.5 323L769.5 323.3L774.53 332.97M766.4 323.27L768.91 328.11"/>
<path d="M736.5 364.1L769.34 360.88L775.38 369.95M766.26 361.18L772.29 370.26"/>
<path d="M736.5 399.8L769.06 394.46L775.67 403.12M766.01 394.96L772.61 403.63"/>
<path d="M736.5 436.7L768.21 427.58L775.79 435.42M765.24 428.44L772.81 436.27"/>
<path d="M736.5 475.3L767.1 462.94L775.45 469.95M764.22 464.1L772.57 471.11"/>
<path d="M736.5 508.8L765.15 492.42L774.37 498.23M762.45 493.96L767.06 496.86"/>
<path d="M736.5 537.1L762.13 516.32L772.17 520.57"/>
<path d="M736.5 559.8L759.81 536.44L770.24 539.62"/>
<path d="M736.5 578.1L758.34 553.36L768.94 555.89"/>
<path d="M736.5 596.3L755.42 569.27L766.24 570.59"/>
<path d="M736.5 611.5L752.68 582.74L763.58 583"/>
<path d="M736.5 626.3L750.52 596.43L761.4 595.88M749.2 599.23L754.64 598.96"/>
<path d="M736.5 639.1L750.78 609.35L761.67 608.9M749.44 612.14L754.88 611.92"/>
<path d="M736.5 651L751.38 621.54L762.28 621.32M749.98 624.31L755.43 624.2"/>
<path d="M736.5 661.7L752.17 632.66L763.07 632.72M750.7 635.39L756.15 635.42"/>
<path d="M736.5 672.31L752.6 643.5L763.5 643.73M751.09 646.21L756.53 646.32"/>
<path d="M736.5 681.74L753.4 653.4L764.29 653.93M751.81 656.06L757.26 656.33"/>
<path d="M736.5 690.12L753.1 661.6L763.99 662.02M751.54 664.28L756.99 664.49"/>
<path d="M736.5 698.59L751.9 669.4L762.8 669.37M750.45 672.14L755.9 672.13"/>
<path d="M736.5 705.89L749.6 675.6L760.46 674.72M748.37 678.45L753.8 678.01"/>
<path d="M736.5 712.51L747.5 681.4L758.28 679.78M746.47 684.32L751.86 683.51"/>
<path d="M736.5 720.53L745.2 688.7L755.83 686.3M744.38 691.69L749.7 690.49"/>
<path d="M736.5 728.35L745.5 696.6L756.15 694.3M744.65 699.58L749.98 698.43"/>
<path d="M736.5 735.02L748.3 704.2L759.12 702.86M747.19 707.1L752.6 706.43"/>
<path d="M736.5 740.48L747.3 709.3L758.56 707.53"/>
<path d="M736.5 744.69L746.05 713.1L754.39 711.45"/>
<path d="M736.5 749.24L744.8 717.3L751.61 715.67"/>
<path d="M736.5 754.23L743.1 721.9L748.66 720.25"/>
<path d="M736.5 759.09L741 726.4L745.88 724.61"/>
<path d="M736.5 761.44L738.5 728.5L744.87 725.59"/>
<path d="M736.5 762.98L735.5 730L743.31 725.53"/>
<path d="M736.5 764.77L732.6 732L741.22 726.01"/>
<path d="M736.5 766.83L729.4 734.6L737.7 727.53"/>
<path d="M736.5 767.68L726 736.4L733.49 728.48"/>
<path d="M736.5 768.34L722.4 738.5L728.92 729.76"/>
<path d="M736.5 769.21L719.05 741.2L724.51 731.77"/>
<path d="M736.5 769.66L715.5 744.2L719.67 734.13"/>
<path d="M736.5 769.51L711.3 748.2L713.55 737.84"/>
<path d="M736.5 770.47L706.2 757.4M709.05 758.63L708.6 753.2"/>
</g>
<g fill="#000">
<circle cx="736.5" cy="772.72" r="1.9"/>
<circle cx="736.5" cy="761.65" r="1.9"/>
<circle cx="736.5" cy="750.58" r="1.9"/>
<circle cx="736.5" cy="739.51" r="1.9"/>
<circle cx="736.5" cy="728.25" r="1.9"/>
<circle cx="736.5" cy="716.92" r="1.9"/>
<circle cx="736.5" cy="705.59" r="1.9"/>
<circle cx="736.5" cy="694.15" r="1.9"/>
<circle cx="736.5" cy="682.54" r="1.9"/>
<circle cx="736.5" cy="670.94" r="1.9"/>
<circle cx="736.5" cy="659.29" r="1.9"/>
<circle cx="736.5" cy="635.52" r="1.9"/>
<circle cx="736.5" cy="611.49" r="1.9"/>
<circle cx="736.5" cy="587.12" r="1.9"/>
<circle cx="736.5" cy="562.24" r="1.9"/>
<circle cx="736.5" cy="537.14" r="1.9"/>
<circle cx="736.5" cy="472.34" r="1.9"/>
<circle cx="736.5" cy="404.81" r="1.9"/>
<circle cx="736.5" cy="334.37" r="1.9"/>
<circle cx="736.5" cy="262.78" r="1.9"/>
<circle cx="736.5" cy="189.77" r="1.9"/>
<circle cx="736.5" cy="117.47" r="1.9"/>
</g>
</g>
<defs><clipPath id="top"><rect x="0" y="71.5" width="1024" height="900"/></clipPath></defs>
<g id="sounding" clip-path="url(#top)" fill="none" stroke-linejoin="round">
<polyline points="336.18,65.4 331.1,71.4 260.7,154.5 234.3,221 202.7,276.7 164.1,323.7 160.8,364.3 218.7,399.8 272.6,436.4 302.5,475.5 299.5,509.5 290.3,536.7 297.4,559.8 313.2,580 325.5,594.3 335.4,612.1 339.5,626 337.5,638.7 328.6,661.6 322.2,683.2 319.8,690 315.4,699.5 313.6,707.8 314.1,715.4 316,724.3 316.4,734.4 318.6,740.8 322.4,747.1 324,752.8 328.1,758.6 338.9,763.4 353.5,765.2 371.2,766.9 375.3,768.5 377,770.6 380.1,771.5" stroke="#4169e1" stroke-width="1.7"/>
<polyline points="431.62,65.4 426.8,71.4 360,154.5 321.5,221 307.6,276.9 319,323.7 335,364.3 353.4,399 382.1,437.1 416.3,475.5 446.8,509.5 467.5,535.5 486.3,560 498.4,577.2 506.3,593.6 514.8,611.6 527.3,639.7 539.1,661.6 548.4,679.5 551.1,684.1 555.8,695 557.7,706.7 554.7,721.6 554.2,728.6 556.6,735.6 559.7,742.7 560.9,751.3 562.5,759.1 561.6,763.3 549.5,767.7 548.4,768.8 550.3,770.5 538.6,771.3" stroke="#000" stroke-width="1.7"/>
</g>
<text id="title" x="364.2" y="40.8" font-size="20.4" text-anchor="middle" textLength="380.3" lengthAdjust="spacingAndGlyphs">Skew-T at Yuma 2025-12-09 06:00PM MST</text>
<text id="subtitle" font-size="16.0" fill="#a0522d" y="59.0"><tspan x="52.9" textLength="10.2" lengthAdjust="spacingAndGlyphs">P</tspan><tspan x="63.3" dy="3.6" font-size="11.6" textLength="17.6" lengthAdjust="spacingAndGlyphs">LCL</tspan><tspan x="81.4" dy="-3.6" textLength="86.8" lengthAdjust="spacingAndGlyphs">=698 mb || T</tspan><tspan x="168.0" dy="3.6" font-size="11.6" textLength="18.2" lengthAdjust="spacingAndGlyphs">LCL</tspan><tspan x="186.6" dy="-3.6" textLength="22.6" lengthAdjust="spacingAndGlyphs">=-7</tspan><tspan x="209.8" dy="-7.2" font-size="10.5" textLength="5.0" lengthAdjust="spacingAndGlyphs">o</tspan><tspan x="214.6" dy="7.2" textLength="464.6" lengthAdjust="spacingAndGlyphs">C || PW=8 mm || CAPE=0 J || MCAPE=9.96921e+36 WBZ= -999 m</tspan></text>
</svg>
</body></html>
